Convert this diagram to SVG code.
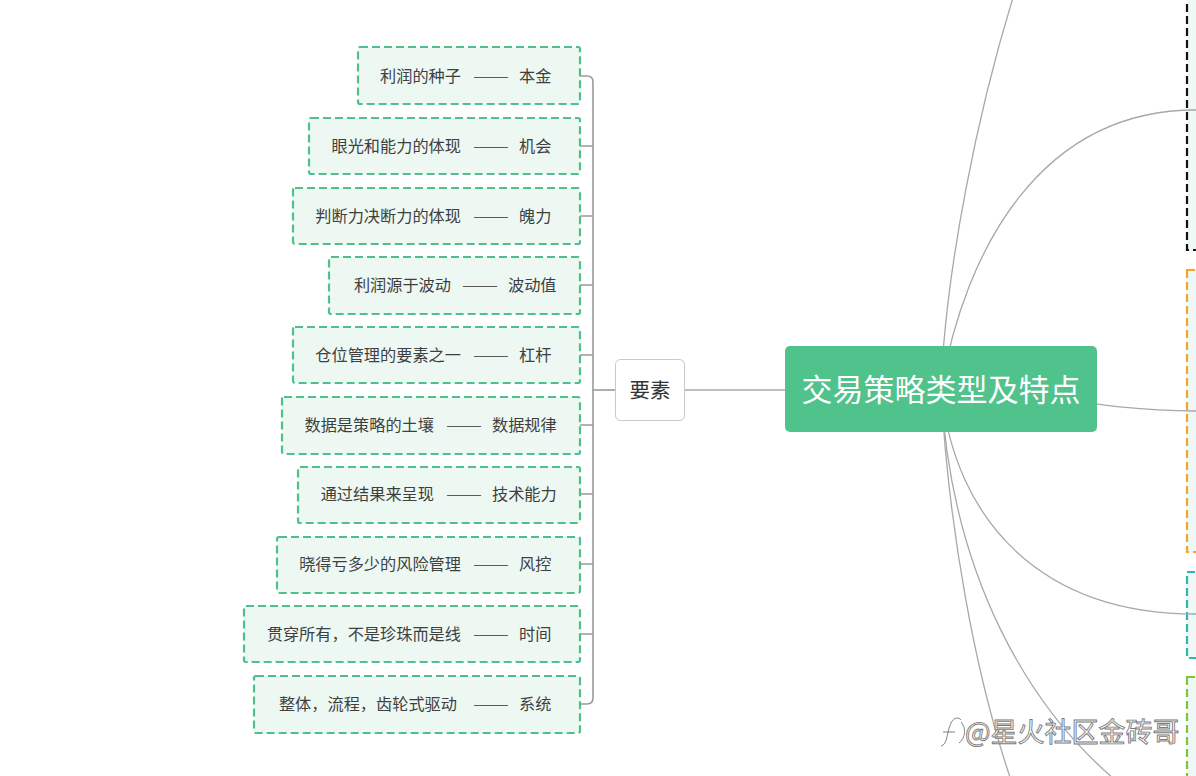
<svg xmlns="http://www.w3.org/2000/svg" width="1196" height="776" viewBox="0 0 1196 776">
<style>
.bg{fill:#ffffff}
.leaf{fill:#edf8f2;stroke:#4fc08a;stroke-width:2.2;stroke-dasharray:8 4}
.t{font-family:"Noto Sans CJK SC","Liberation Sans",sans-serif;font-size:16.2px;fill:#3f3f3f}
.d{font-family:"Noto Sans CJK SC","Liberation Sans",sans-serif;font-size:16.2px;fill:#5a5a5a}
.conn{fill:none;stroke:#a8a8a8;stroke-width:1.3}
.tree{fill:none;stroke:#9a9a9a;stroke-width:1.6}
.side{fill:#eef8f4;stroke-width:2.2;stroke-dasharray:8 4}
</style>
<rect class="bg" x="0" y="0" width="1196" height="776"/>

<g id="right-boxes">
<rect class="side" x="1187" y="-20" width="40" height="270" stroke="#111111"/>
<rect class="side" x="1187" y="270" width="40" height="282" stroke="#f5a431"/>
<rect class="side" x="1187" y="572" width="40" height="86" stroke="#2cb8b2"/>
<rect class="side" x="1187" y="677" width="40" height="120" stroke="#7cc83c"/>
</g>

<g id="connectors">
<path class="conn" d="M941,389 C945,280 975,110 1025,-40"/>
<path class="conn" d="M941,389 C965,250 1040,110 1196,110"/>
<path class="conn" d="M941,389 C1050,389 1080,410 1196,411"/>
<path class="conn" d="M941,389 C955,520 1040,614 1196,614"/>
<path class="conn" d="M941,389 C948,520 974,680 1018,800"/>
<path class="conn" d="M941,389 C950,560 1020,720 1155,810"/>
<line class="conn" x1="685" y1="390" x2="785" y2="390"/>
<path class="tree" d="M615,390 L593,390"/>
<path class="tree" d="M568,76 L587,76 Q593,76 593,82 L593,698 Q593,704 587,704 L568,704"/>
<path class="tree" d="M568,146 L593,146 M568,216 L593,216 M568,285 L593,285 M568,355 L593,355 M568,425 L593,425 M568,494 L593,494 M568,564 L593,564 M568,634 L593,634"/>
</g>

<g id="center">
<rect x="785" y="346" width="312" height="86" rx="5" fill="#50c28c"/>
<text x="941" y="401" text-anchor="middle" font-family="Noto Sans CJK SC, Liberation Sans, sans-serif" font-size="31" fill="#ffffff">交易策略类型及特点</text>
</g>

<g id="yaosu">
<rect x="615.5" y="359.5" width="69" height="61" rx="5" fill="#ffffff" stroke="#c8c8c8" stroke-width="1"/>
<text x="650" y="398" text-anchor="middle" font-family="Noto Sans CJK SC, Liberation Sans, sans-serif" font-size="20.5" fill="#333333">要素</text>
</g>

<g id="n1"><rect class="leaf" x="358" y="47" width="222" height="57" rx="2"/>
<text class="t" x="461" y="82" text-anchor="end">利润的种子</text><text class="d" x="473" y="82" textLength="36" lengthAdjust="spacingAndGlyphs">——</text><text class="t" x="519" y="82">本金</text></g>
<g id="n2"><rect class="leaf" x="309" y="118" width="271" height="56" rx="2"/>
<text class="t" x="461" y="152" text-anchor="end">眼光和能力的体现</text><text class="d" x="473" y="152" textLength="36" lengthAdjust="spacingAndGlyphs">——</text><text class="t" x="519" y="152">机会</text></g>
<g id="n3"><rect class="leaf" x="293" y="188" width="287" height="56" rx="2"/>
<text class="t" x="461" y="222" text-anchor="end">判断力决断力的体现</text><text class="d" x="473" y="222" textLength="36" lengthAdjust="spacingAndGlyphs">——</text><text class="t" x="519" y="222">魄力</text></g>
<g id="n4"><rect class="leaf" x="329" y="257" width="251" height="57" rx="2"/>
<text class="t" x="451" y="291" text-anchor="end">利润源于波动</text><text class="d" x="462" y="291" textLength="36" lengthAdjust="spacingAndGlyphs">——</text><text class="t" x="508" y="291">波动值</text></g>
<g id="n5"><rect class="leaf" x="293" y="327" width="287" height="56" rx="2"/>
<text class="t" x="461" y="361" text-anchor="end">仓位管理的要素之一</text><text class="d" x="473" y="361" textLength="36" lengthAdjust="spacingAndGlyphs">——</text><text class="t" x="519" y="361">杠杆</text></g>
<g id="n6"><rect class="leaf" x="282" y="397" width="298" height="57" rx="2"/>
<text class="t" x="434" y="431" text-anchor="end">数据是策略的土壤</text><text class="d" x="446" y="431" textLength="36" lengthAdjust="spacingAndGlyphs">——</text><text class="t" x="492" y="431">数据规律</text></g>
<g id="n7"><rect class="leaf" x="298" y="467" width="282" height="56" rx="2"/>
<text class="t" x="434" y="500" text-anchor="end">通过结果来呈现</text><text class="d" x="446" y="500" textLength="36" lengthAdjust="spacingAndGlyphs">——</text><text class="t" x="492" y="500">技术能力</text></g>
<g id="n8"><rect class="leaf" x="277" y="537" width="303" height="56" rx="2"/>
<text class="t" x="461" y="570" text-anchor="end">晓得亏多少的风险管理</text><text class="d" x="473" y="570" textLength="36" lengthAdjust="spacingAndGlyphs">——</text><text class="t" x="519" y="570">风控</text></g>
<g id="n9"><rect class="leaf" x="244" y="606" width="336" height="56" rx="2"/>
<text class="t" x="461" y="640" text-anchor="end">贯穿所有，不是珍珠而是线</text><text class="d" x="473" y="640" textLength="36" lengthAdjust="spacingAndGlyphs">——</text><text class="t" x="519" y="640">时间</text></g>
<g id="n10"><rect class="leaf" x="254" y="676" width="326" height="57" rx="2"/>
<text class="t" x="457" y="710" text-anchor="end">整体，流程，齿轮式驱动</text><text class="d" x="473" y="710" textLength="36" lengthAdjust="spacingAndGlyphs">——</text><text class="t" x="519" y="710">系统</text></g>

<g id="watermark">
<path d="M940,745 C947,743 945,733 950,722 C953,716 958,716 960,719 M942,731 L954,731 M960,721 C965,726 965,737 958,742" fill="none" stroke="#ffffff" stroke-width="2.6"/>
<path d="M940,745 C947,743 945,733 950,722 C953,716 958,716 960,719 M942,731 L954,731 M960,721 C965,726 965,737 958,742" fill="none" stroke="#666666" stroke-width="0.8" transform="translate(1,1)"/>
<text x="965" y="742" font-family="Noto Sans CJK SC, Liberation Sans, sans-serif" font-size="27" fill="#ffffff" stroke="#7a7a7a" stroke-width="0.9">@星火社区金砖哥</text>
</g>
</svg>
